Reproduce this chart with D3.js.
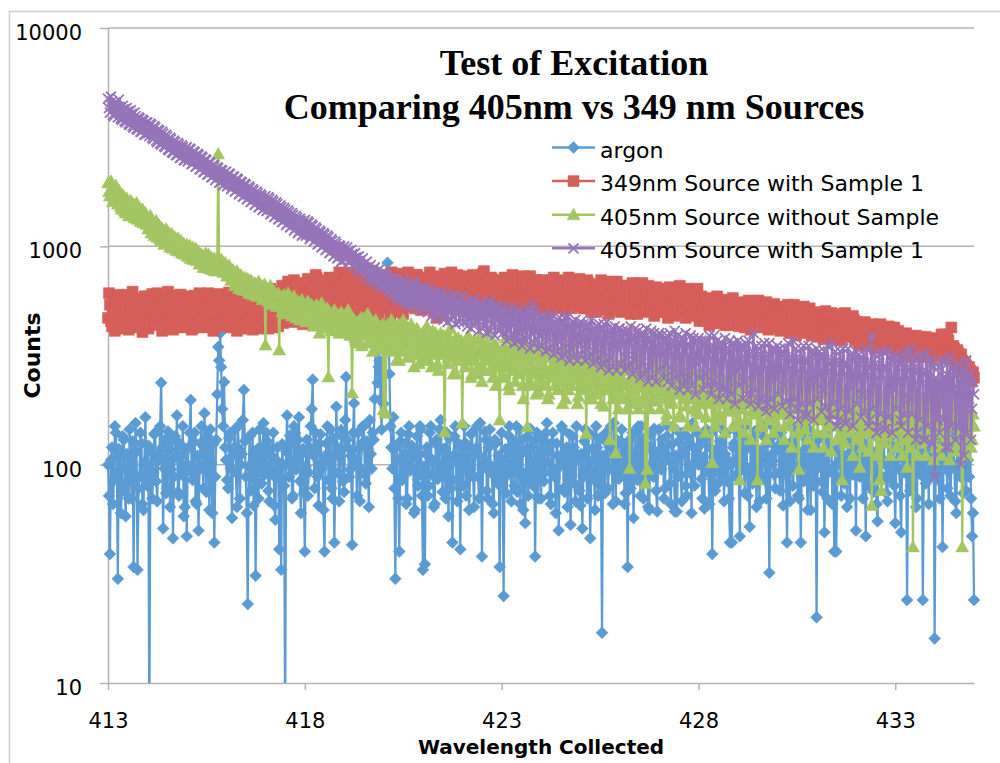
<!DOCTYPE html>
<html>
<head>
<meta charset="utf-8">
<script src="https://cdn.jsdelivr.net/npm/d3@7"></script>
<style>
  html, body { margin: 0; padding: 0; background: #ffffff; }
  svg { display: block; }
</style>
</head>
<body>
<svg id="chart" width="1000" height="763"></svg>
<script>
// Spectrometer sampling grid (nm): one reading every 0.025 nm from 413.000 to 435.000
const wavelengthStart = 413.0;
const wavelengthStep = 0.025;

// Counts, one row per nanometre (40 readings), plus the final reading at 435.000
const argon = [
  100, 72, 39, 105, 120, 66, 85, 150, 140, 92, 30, 118, 110, 60, 75, 135, 130, 82, 58, 112, 95, 70, 145, 98, 70, 128, 34, 90, 155, 115, 33, 78, 88, 140, 125, 66, 62, 102, 165, 88,
  80, 122, 6, 95, 115, 70, 92, 138, 140, 84, 68, 112, 105, 150, 237, 120, 51, 96, 130, 74, 78, 142, 118, 64, 95, 130, 46, 88, 135, 108, 168, 75, 72, 125, 110, 90, 150, 58, 64, 118,
  47, 100, 120, 140, 198, 92, 85, 128, 140, 68, 66, 110, 50, 95, 125, 150, 98, 78, 172, 116, 75, 135, 115, 62, 145, 102, 60, 124, 44, 88, 130, 210, 346, 300, 401, 280, 180, 150, 239, 120,
  105, 85, 78, 132, 140, 96, 57, 110, 120, 145, 92, 64, 150, 118, 70, 100, 112, 160, 220, 128, 88, 60, 23, 98, 135, 76, 100, 140, 65, 110, 31, 94, 118, 70, 145, 120, 82, 104, 155, 90,
  95, 140, 128, 76, 68, 118, 110, 90, 140, 65, 56, 105, 120, 88, 41, 96, 33, 124, 100, 80, 6, 115, 168, 102, 88, 136, 125, 70, 72, 150, 140, 95, 105, 130, 165, 84, 60, 112, 118, 74,
  40, 98, 130, 72, 92, 120, 150, 180, 245, 110, 78, 140, 115, 88, 65, 125, 138, 96, 100, 62, 40, 110, 125, 150, 85, 106, 145, 78, 70, 132, 44, 92, 184, 120, 110, 68, 90, 144, 135, 84,
  75, 160, 252, 130, 120, 88, 95, 110, 43, 140, 191, 100, 105, 72, 140, 118, 68, 96, 125, 150, 150, 90, 82, 128, 118, 64, 160, 112, 96, 140, 130, 200, 380, 330, 237, 280, 300, 200, 145, 260,
  190, 330, 420, 620, 840, 420, 260, 150, 120, 96, 165, 78, 30, 120, 105, 70, 40, 128, 140, 85, 88, 112, 125, 66, 70, 138, 150, 94, 98, 122, 115, 60, 62, 108, 135, 80, 90, 150, 145, 72,
  33, 98, 35, 112, 120, 72, 80, 140, 150, 90, 105, 64, 66, 125, 130, 86, 92, 145, 160, 100, 75, 118, 118, 70, 140, 96, 58, 132, 100, 78, 44, 110, 135, 150, 85, 68, 125, 104, 41, 122,
  110, 80, 150, 126, 72, 100, 120, 62, 95, 138, 140, 88, 64, 118, 115, 150, 88, 70, 155, 108, 38, 96, 105, 142, 130, 76, 70, 120, 145, 92, 98, 66, 60, 130, 125, 84, 82, 110, 34, 100,
  140, 92, 25, 104, 118, 74, 90, 136, 150, 98, 68, 122, 128, 80, 100, 150, 75, 112, 145, 66, 112, 130, 62, 90, 54, 118, 135, 72, 95, 146, 120, 86, 80, 128, 38, 96, 140, 70, 105, 132,
  70, 118, 130, 84, 92, 140, 155, 102, 115, 72, 66, 126, 140, 94, 88, 60, 125, 110, 50, 98, 108, 150, 145, 78, 75, 116, 120, 64, 98, 138, 53, 90, 135, 120, 82, 68, 150, 106, 110, 76,
  65, 112, 51, 88, 128, 145, 95, 70, 140, 104, 46, 92, 118, 136, 85, 62, 150, 120, 72, 98, 132, 80, 17, 110, 105, 74, 140, 126, 78, 95, 120, 150, 96, 66, 155, 108, 68, 130, 125, 86,
  90, 128, 145, 96, 110, 66, 74, 120, 34, 102, 130, 78, 98, 140, 57, 92, 140, 112, 85, 150, 118, 72, 150, 104, 70, 132, 125, 88, 100, 64, 62, 118, 138, 95, 88, 146, 115, 76, 61, 108,
  145, 100, 95, 130, 120, 70, 78, 112, 135, 150, 105, 82, 66, 124, 150, 96, 61, 110, 61, 88, 128, 140, 90, 68, 140, 116, 112, 80, 72, 134, 125, 92, 98, 60, 155, 120, 80, 104, 118, 140,
  100, 122, 135, 86, 70, 108, 63, 130, 145, 98, 92, 66, 120, 140, 39, 96, 110, 76, 150, 118, 82, 104, 128, 90, 95, 144, 68, 112, 140, 84, 105, 70, 44, 100, 44, 120, 125, 150, 88, 106,
  140, 92, 47, 108, 115, 136, 98, 74, 150, 118, 72, 96, 52, 124, 130, 82, 90, 142, 120, 64, 145, 104, 68, 116, 110, 88, 135, 150, 85, 70, 125, 98, 32, 110, 100, 134, 148, 90, 78, 120,
  118, 140, 92, 76, 140, 104, 65, 122, 125, 90, 44, 110, 105, 68, 150, 128, 80, 96, 130, 146, 98, 72, 70, 114, 44, 100, 138, 84, 112, 150, 88, 62, 145, 108, 62, 126, 120, 80, 95, 136,
  20, 96, 130, 112, 105, 84, 75, 138, 49, 104, 140, 70, 92, 126, 118, 150, 66, 98, 40, 116, 40, 88, 150, 120, 100, 72, 128, 144, 82, 106, 110, 64, 145, 96, 70, 132, 125, 90, 96, 118,
  50, 112, 135, 94, 88, 146, 115, 70, 150, 102, 47, 124, 120, 80, 98, 136, 140, 110, 75, 96, 108, 66, 55, 118, 130, 90, 85, 142, 145, 104, 100, 74, 68, 128, 125, 86, 92, 150, 138, 80,
  54, 104, 118, 140, 95, 72, 49, 116, 140, 92, 110, 130, 24, 98, 128, 76, 80, 144, 150, 108, 102, 64, 70, 122, 135, 96, 90, 148, 24, 100, 120, 82, 145, 110, 66, 126, 112, 88, 98, 134,
  16, 90, 130, 110, 85, 70, 140, 124, 42, 100, 115, 140, 95, 78, 150, 112, 72, 96, 125, 144, 100, 68, 60, 116, 138, 92, 88, 130, 118, 74, 145, 104, 76, 120, 105, 88, 130, 70, 47, 60,
  24
];

const source349WithSample = [
  470, 610, 540, 455, 430, 520, 585, 410, 505, 570, 450, 600, 560, 440, 480, 530, 420, 580, 530, 465, 600, 415, 460, 545, 510, 620, 445, 495, 575, 430, 490, 560, 425, 515, 550, 405, 470, 590, 520, 450,
  590, 420, 440, 555, 500, 605, 560, 435, 455, 525, 610, 470, 480, 580, 520, 410, 430, 545, 570, 490, 495, 620, 465, 430, 545, 500, 415, 590, 580, 460, 500, 540, 450, 600, 600, 425, 475, 565, 530, 480,
  440, 590, 565, 470, 510, 415, 420, 550, 595, 495, 485, 440, 535, 610, 450, 520, 570, 425, 500, 580, 430, 545, 610, 460, 465, 590, 525, 410, 490, 560, 575, 450, 440, 605, 550, 480, 505, 430, 460, 575,
  580, 450, 470, 615, 515, 425, 435, 560, 600, 485, 490, 410, 455, 575, 560, 500, 420, 595, 540, 440, 505, 620, 590, 470, 445, 530, 520, 415, 480, 600, 565, 455, 430, 540, 545, 630, 500, 420, 610, 520,
  460, 600, 530, 420, 490, 640, 580, 470, 425, 560, 555, 600, 470, 430, 620, 540, 505, 660, 445, 580, 590, 470, 520, 690, 480, 560, 650, 450, 540, 700, 460, 620, 610, 500, 500, 680, 570, 460, 440, 650,
  600, 480, 520, 710, 680, 560, 470, 650, 640, 520, 560, 740, 720, 600, 500, 670, 610, 470, 450, 700, 690, 580, 580, 480, 530, 720, 650, 560, 480, 690, 700, 600, 560, 500, 620, 760, 510, 640, 670, 540,
  590, 700, 720, 500, 540, 760, 660, 580, 610, 490, 480, 690, 700, 620, 570, 740, 640, 530, 520, 680, 740, 600, 600, 500, 560, 720, 680, 610, 500, 770, 650, 560, 620, 700, 560, 480, 710, 640, 590, 730,
  640, 520, 550, 720, 690, 600, 600, 480, 760, 660, 530, 700, 660, 560, 610, 750, 580, 500, 720, 630, 490, 680, 650, 560, 620, 760, 700, 530, 560, 690, 680, 600, 520, 740, 740, 580, 600, 700, 640, 510,
  570, 720, 690, 540, 620, 680, 520, 760, 730, 600, 600, 500, 650, 700, 470, 620, 680, 560, 560, 730, 620, 490, 750, 640, 540, 700, 660, 580, 600, 760, 700, 520, 580, 670, 630, 740, 510, 600, 690, 550,
  610, 730, 560, 660, 720, 520, 590, 690, 650, 560, 530, 740, 700, 610, 620, 500, 570, 700, 680, 590, 600, 750, 770, 620, 540, 680, 640, 510, 590, 720, 710, 600, 560, 680, 660, 530, 500, 700, 630, 580,
  690, 540, 580, 720, 620, 500, 540, 680, 700, 610, 600, 740, 650, 560, 520, 690, 680, 600, 590, 500, 620, 710, 730, 580, 560, 650, 640, 520, 600, 730, 500, 640, 670, 560, 580, 700, 700, 610, 550, 680,
  630, 520, 580, 700, 680, 610, 540, 660, 610, 500, 700, 590, 560, 720, 650, 540, 590, 680, 520, 630, 670, 560, 600, 700, 640, 510, 550, 670, 720, 600, 580, 520, 620, 690, 530, 620, 660, 560, 600, 710,
  560, 680, 640, 520, 590, 660, 520, 700, 680, 560, 600, 500, 550, 670, 630, 590, 500, 640, 660, 540, 580, 700, 620, 510, 540, 650, 690, 580, 570, 490, 610, 680, 520, 620, 650, 550, 590, 690, 560, 510,
  620, 500, 550, 660, 600, 530, 510, 640, 660, 570, 580, 490, 630, 680, 540, 600, 600, 510, 490, 650, 640, 560, 570, 680, 610, 500, 530, 620, 590, 660, 650, 540, 520, 610, 600, 480, 560, 650, 620, 530,
  540, 640, 600, 500, 560, 620, 500, 580, 630, 470, 570, 650, 520, 600, 610, 490, 480, 630, 580, 540, 550, 660, 620, 500, 510, 610, 590, 470, 560, 640, 530, 580, 600, 480, 490, 620, 570, 530, 550, 640,
  560, 455, 495, 590, 530, 475, 455, 570, 570, 505, 515, 435, 485, 580, 550, 465, 445, 540, 530, 590, 505, 445, 560, 525, 475, 570, 525, 435, 495, 560, 540, 475, 435, 530, 515, 580, 550, 445, 485, 540,
  515, 430, 460, 555, 535, 470, 490, 425, 430, 525, 525, 565, 470, 415, 510, 545, 440, 490, 545, 430, 480, 565, 500, 440, 425, 515, 525, 460, 460, 555, 490, 415, 510, 535, 440, 500, 480, 545, 515, 425,
  445, 520, 495, 410, 465, 530, 420, 485, 510, 435, 455, 540, 485, 400, 410, 500, 475, 540, 435, 390, 500, 465, 430, 520, 465, 410, 485, 530, 400, 465, 475, 420, 445, 520, 495, 390, 430, 500, 465, 435,
  430, 495, 470, 385, 405, 490, 450, 375, 425, 505, 480, 405, 395, 460, 440, 495, 460, 375, 385, 480, 450, 415, 425, 490, 470, 370, 405, 460, 430, 495, 455, 385, 385, 470, 440, 405, 415, 480, 460, 370,
  395, 450, 425, 350, 370, 430, 415, 380, 385, 450, 430, 350, 360, 425, 405, 370, 425, 440, 380, 340, 410, 425, 350, 395, 395, 440, 415, 340, 370, 425, 405, 360, 385, 430, 360, 405, 415, 340, 380, 425,
  385, 330, 355, 410, 395, 340, 340, 385, 375, 320, 350, 400, 390, 340, 330, 375, 365, 310, 385, 355, 345, 390, 375, 320, 355, 385, 320, 355, 370, 310, 345, 385, 380, 340, 330, 375, 355, 310, 340, 365,
  370, 315, 325, 380, 360, 325, 340, 395, 380, 340, 395, 350, 350, 385, 370, 315, 335, 425, 320, 350, 340, 300, 310, 335, 325, 275, 290, 320, 300, 265, 275, 295, 285, 250, 260, 280, 270, 240, 250, 265,
  250
];

const source405NoSample = [
  1950, 1780, 1700, 1990, 1820, 1600, 1620, 1850, 1900, 1640, 1560, 1800, 1750, 1520, 1480, 1720, 1680, 1450, 1420, 1660, 1600, 1380, 1500, 1620, 1380, 1520, 1560, 1350, 1440, 1580, 1330, 1460, 1500, 1300, 1380, 1480, 1280, 1420, 1420, 1260,
  1340, 1200, 1230, 1380, 1150, 1280, 1300, 1120, 1200, 1310, 1100, 1240, 1250, 1080, 1060, 1210, 1180, 1020, 1120, 1200, 1030, 1130, 1150, 990, 1070, 1140, 980, 1080, 1100, 960, 1020, 1090, 950, 1040, 1060, 930, 990, 1030, 920, 1000,
  1020, 900, 940, 1010, 880, 960, 990, 870, 920, 980, 860, 900, 950, 830, 830, 920, 900, 800, 870, 930, 800, 880, 920, 790, 850, 890, 780, 860, 880, 770, 820, 850, 2650, 800, 790, 870, 860, 760, 760, 840,
  810, 730, 740, 820, 790, 700, 700, 780, 760, 660, 680, 770, 730, 640, 660, 740, 720, 630, 690, 720, 630, 700, 710, 610, 650, 700, 690, 600, 610, 680, 670, 590, 640, 690, 590, 650, 660, 570, 620, 670,
  353, 640, 620, 560, 580, 660, 640, 540, 560, 620, 600, 530, 540, 610, 335, 570, 590, 500, 520, 600, 570, 490, 550, 610, 500, 560, 580, 480, 530, 590, 560, 470, 490, 560, 540, 460, 510, 570, 470, 540,
  530, 450, 490, 560, 550, 460, 470, 540, 510, 430, 450, 530, 540, 460, 480, 400, 500, 550, 440, 500, 520, 420, 470, 520, 252, 480, 490, 410, 450, 500, 510, 440, 430, 490, 480, 400, 460, 500, 420, 470,
  480, 400, 420, 500, 510, 430, 390, 470, 213, 440, 460, 380, 370, 450, 440, 360, 400, 470, 350, 420, 470, 390, 410, 460, 490, 370, 360, 440, 430, 330, 390, 450, 460, 370, 340, 430, 420, 350, 380, 440,
  178, 400, 172, 380, 440, 340, 370, 420, 460, 360, 330, 410, 410, 300, 390, 440, 300, 380, 430, 330, 460, 370, 350, 420, 400, 310, 320, 400, 440, 350, 370, 280, 340, 410, 420, 320, 290, 380, 390, 300,
  400, 310, 330, 390, 430, 350, 300, 380, 380, 280, 410, 340, 320, 400, 360, 290, 270, 360, 400, 320, 350, 390, 141, 330, 390, 290, 310, 370, 420, 330, 340, 260, 360, 380, 260, 340, 380, 300, 330, 370,
  155, 340, 360, 280, 300, 370, 390, 310, 320, 250, 260, 350, 370, 300, 330, 260, 280, 380, 380, 320, 240, 340, 350, 270, 310, 360, 400, 300, 270, 330, 340, 250, 360, 310, 230, 350, 330, 280, 160, 320,
  330, 260, 250, 350, 380, 300, 280, 230, 220, 330, 350, 270, 300, 380, 240, 310, 410, 260, 270, 340, 320, 230, 200, 300, 360, 280, 149, 320, 290, 240, 230, 350, 340, 270, 260, 210, 310, 360, 215, 290,
  300, 230, 240, 330, 350, 260, 270, 200, 210, 310, 330, 250, 280, 350, 230, 290, 380, 220, 250, 320, 300, 240, 190, 290, 340, 200, 260, 350, 220, 270, 310, 230, 245, 330, 360, 260, 270, 190, 205, 300,
  290, 220, 230, 310, 330, 250, 139, 280, 260, 200, 300, 240, 200, 310, 270, 210, 340, 260, 220, 300, 280, 190, 245, 320, 185, 260, 310, 220, 230, 290, 130, 240, 290, 200, 250, 300, 113, 230, 270, 180,
  260, 200, 210, 290, 300, 230, 230, 180, 180, 270, 96, 250, 280, 190, 240, 300, 200, 230, 310, 180, 225, 280, 260, 200, 190, 270, 82, 240, 95, 220, 270, 180, 210, 290, 245, 200, 300, 240, 195, 270,
  250, 180, 200, 270, 280, 210, 220, 160, 170, 250, 260, 200, 230, 280, 190, 150, 290, 220, 210, 260, 240, 170, 165, 240, 270, 200, 215, 280, 185, 150, 250, 230, 200, 270, 280, 180, 225, 150, 175, 250,
  240, 170, 190, 260, 260, 200, 205, 140, 165, 240, 250, 190, 215, 270, 102, 200, 270, 150, 195, 240, 230, 170, 160, 250, 255, 190, 200, 140, 175, 230, 240, 180, 190, 260, 265, 150, 210, 240, 150, 200,
  225, 160, 85, 230, 250, 180, 195, 140, 160, 240, 235, 190, 200, 130, 175, 250, 260, 170, 185, 230, 85, 200, 215, 150, 150, 240, 240, 180, 190, 130, 165, 230, 230, 160, 205, 250, 140, 190, 220, 150,
  215, 150, 170, 230, 240, 180, 190, 130, 150, 220, 225, 170, 195, 240, 160, 120, 250, 190, 180, 230, 210, 140, 95, 200, 230, 160, 175, 240, 145, 200, 220, 130, 190, 230, 240, 170, 165, 120, 200, 220,
  205, 140, 160, 220, 230, 170, 180, 120, 140, 210, 215, 160, 185, 230, 150, 115, 240, 180, 170, 220, 200, 130, 135, 200, 220, 160, 85, 210, 175, 125, 210, 170, 150, 230, 230, 140, 180, 110, 160, 210,
  200, 130, 150, 210, 97, 170, 175, 120, 215, 160, 140, 200, 190, 115, 160, 220, 65, 150, 225, 170, 180, 110, 145, 200, 85, 160, 76, 190, 200, 125, 170, 220, 135, 160, 210, 110, 160, 190, 185, 140,
  190, 120, 145, 200, 210, 150, 165, 110, 130, 190, 195, 140, 97, 180, 175, 120, 220, 160, 42, 140, 180, 200, 140, 110, 200, 160, 160, 200, 125, 170, 190, 110, 170, 210, 215, 140, 150, 190, 135, 105,
  185, 120, 140, 200, 205, 150, 160, 110, 125, 190, 190, 140, 165, 200, 130, 105, 210, 160, 150, 190, 175, 115, 120, 180, 195, 140, 155, 200, 42, 130, 180, 170, 140, 110, 200, 150, 160, 120, 130, 170,
  150
];

const source405WithSample = [
  4750, 4300, 4100, 4850, 4600, 4000, 3950, 4550, 4500, 4150, 3900, 4700, 4350, 3850, 3800, 4400, 4250, 3750, 3700, 4300, 4150, 3650, 3600, 4200, 4050, 3550, 3500, 4100, 3950, 3450, 3420, 3900, 3850, 3350, 3350, 3800, 3750, 3250, 3250, 3700,
  3700, 3300, 3200, 3650, 3600, 3150, 3100, 3550, 3500, 3050, 3000, 3420, 3380, 2960, 2920, 3350, 3280, 2880, 2850, 3250, 3180, 2780, 2760, 3150, 3100, 2700, 2680, 3050, 3000, 2620, 2620, 2980, 2920, 2540, 2550, 2900, 2850, 2480, 2480, 2800,
  2850, 2450, 2480, 2800, 2780, 2380, 2400, 2720, 2700, 2320, 2330, 2650, 2620, 2250, 2260, 2580, 2550, 2190, 2200, 2500, 2480, 2130, 2140, 2430, 2410, 2070, 2080, 2370, 2340, 2010, 2030, 2300, 2280, 1960, 1970, 2240, 2220, 1900, 1920, 2180,
  2200, 1880, 1900, 2150, 2140, 1830, 1850, 2090, 2080, 1780, 1800, 2040, 2020, 1730, 1750, 1980, 1960, 1690, 1700, 1930, 1910, 1640, 1650, 1880, 1850, 1600, 1610, 1830, 1800, 1550, 1560, 1780, 1750, 1510, 1520, 1730, 1700, 1470, 1480, 1680,
  1700, 1450, 1460, 1680, 1650, 1400, 1420, 1630, 1600, 1360, 1380, 1590, 1560, 1330, 1340, 1540, 1510, 1290, 1300, 1500, 1470, 1250, 1270, 1460, 1430, 1220, 1230, 1420, 1390, 1180, 1200, 1380, 1350, 1150, 1170, 1340, 1310, 1120, 1130, 1300,
  1320, 1120, 1130, 1300, 1280, 1080, 1100, 1260, 1240, 1050, 1060, 1220, 1200, 1020, 1030, 1180, 1160, 990, 1000, 1150, 1130, 960, 970, 1120, 1100, 930, 940, 1080, 1060, 900, 910, 1050, 1030, 880, 890, 1010, 1000, 850, 860, 990,
  1000, 870, 900, 990, 950, 840, 860, 960, 920, 810, 820, 930, 890, 780, 790, 900, 860, 760, 770, 880, 830, 730, 740, 850, 800, 700, 720, 820, 780, 690, 700, 800, 760, 670, 680, 780, 740, 650, 660, 760,
  760, 640, 670, 750, 730, 620, 640, 720, 700, 590, 620, 710, 680, 570, 600, 690, 660, 560, 590, 680, 700, 550, 610, 670, 650, 540, 580, 660, 640, 530, 560, 690, 680, 540, 590, 640, 620, 510, 570, 650,
  650, 520, 560, 640, 620, 500, 540, 630, 600, 480, 520, 610, 590, 470, 500, 600, 610, 490, 540, 620, 570, 460, 490, 590, 600, 450, 530, 580, 560, 460, 480, 600, 590, 440, 520, 570, 550, 450, 500, 590,
  580, 450, 490, 560, 550, 430, 460, 540, 530, 420, 480, 570, 570, 440, 450, 530, 520, 410, 470, 550, 540, 420, 430, 520, 510, 400, 480, 560, 560, 410, 440, 530, 500, 390, 460, 540, 530, 410, 420, 510,
  520, 400, 430, 510, 490, 370, 410, 500, 500, 380, 440, 530, 470, 360, 390, 480, 510, 370, 420, 500, 460, 350, 380, 490, 490, 370, 430, 520, 470, 340, 400, 480, 540, 360, 410, 500, 450, 340, 390, 470,
  480, 350, 400, 470, 450, 330, 370, 460, 470, 340, 410, 490, 430, 320, 360, 450, 460, 330, 390, 470, 440, 310, 350, 450, 470, 320, 400, 480, 420, 300, 340, 440, 450, 310, 380, 460, 430, 300, 360, 440,
  450, 320, 370, 440, 420, 300, 340, 430, 440, 310, 380, 460, 400, 290, 330, 420, 430, 300, 360, 440, 410, 280, 320, 420, 440, 290, 370, 450, 390, 270, 310, 410, 420, 280, 350, 430, 400, 270, 340, 420,
  420, 290, 350, 410, 400, 270, 310, 400, 410, 280, 360, 430, 380, 260, 300, 390, 420, 270, 340, 410, 390, 250, 290, 380, 400, 260, 350, 420, 370, 240, 280, 380, 410, 250, 330, 400, 380, 240, 320, 390,
  400, 270, 320, 390, 370, 250, 290, 380, 390, 240, 340, 400, 350, 230, 270, 370, 410, 250, 310, 390, 360, 220, 260, 360, 380, 230, 330, 400, 350, 220, 250, 350, 390, 230, 300, 380, 360, 210, 290, 370,
  380, 250, 300, 370, 350, 220, 260, 360, 370, 230, 320, 390, 330, 210, 240, 350, 390, 230, 290, 370, 340, 200, 230, 350, 360, 220, 310, 380, 330, 200, 220, 340, 370, 210, 280, 360, 340, 190, 270, 350,
  370, 230, 280, 350, 340, 200, 240, 340, 360, 210, 300, 370, 320, 190, 210, 330, 400, 220, 270, 350, 330, 185, 200, 320, 350, 200, 290, 360, 310, 175, 190, 320, 360, 200, 260, 340, 330, 180, 250, 330,
  350, 210, 270, 340, 320, 185, 230, 320, 340, 195, 290, 360, 300, 170, 190, 310, 370, 200, 260, 340, 310, 160, 180, 300, 340, 190, 280, 350, 300, 165, 170, 300, 350, 190, 250, 330, 320, 160, 240, 310,
  340, 200, 260, 330, 310, 175, 220, 310, 330, 185, 280, 350, 290, 160, 170, 300, 360, 190, 250, 330, 300, 150, 160, 290, 330, 180, 270, 340, 290, 155, 155, 290, 340, 175, 240, 320, 310, 150, 230, 300,
  330, 190, 250, 320, 300, 165, 210, 300, 320, 175, 270, 340, 280, 150, 160, 290, 390, 180, 240, 320, 290, 140, 150, 280, 320, 170, 260, 330, 280, 145, 145, 280, 330, 165, 230, 310, 300, 140, 220, 290,
  320, 180, 240, 310, 290, 160, 150, 290, 310, 170, 260, 330, 270, 140, 200, 280, 340, 170, 230, 310, 280, 130, 140, 270, 310, 160, 250, 320, 270, 130, 130, 260, 320, 150, 220, 300, 290, 125, 210, 280,
  88, 250, 230, 160, 280, 140, 190, 300, 300, 160, 250, 120, 260, 290, 120, 230, 310, 150, 220, 280, 270, 130, 150, 260, 290, 150, 240, 100, 250, 270, 110, 210, 300, 140, 200, 260, 260, 130, 180, 240,
  210
];

const seriesNames = [
  "argon",
  "349nm Source with Sample 1",
  "405nm Source without Sample",
  "405nm Source with Sample 1"
];
const seriesValues = [argon, source349WithSample, source405NoSample, source405WithSample];
const seriesColors = ["#5b9bd3", "#d65f5a", "#a3c562", "#9574b8"];
const seriesMarkers = ["diamond", "square", "triangle", "cross"];

const xTicks = [413, 418, 423, 428, 433];
const yTicks = [10, 100, 1000, 10000];

const titleLines = ["Test of Excitation", "Comparing 405nm vs 349 nm Sources"];
const xTitle = "Wavelength Collected";
const yTitle = "Counts";

// ---- layout ----
const svg = d3.select("#chart");
const plot = { left: 108, right: 974, top: 28, bottom: 683 };
const font = "'DejaVu Sans', sans-serif";
const axisGray = "#b3b3b3";

const x = d3.scaleLinear().domain([413, 435]).range([plot.left, plot.right]);
const y = d3.scaleLog().domain([10, 10000]).range([plot.bottom, plot.top]);

// chart frame
svg.append("rect")
  .attr("x", 9.5).attr("y", 11.5)
  .attr("width", 1010).attr("height", 780)
  .attr("fill", "#ffffff")
  .attr("stroke", "#cfcfcf").attr("stroke-width", 1.5);

// horizontal gridlines
svg.append("g").selectAll("line")
  .data(yTicks.filter(t => t > 10))
  .join("line")
  .attr("x1", plot.left).attr("x2", plot.right)
  .attr("y1", d => y(d)).attr("y2", d => y(d))
  .attr("stroke", axisGray).attr("stroke-width", 1.5);

// axes
const xAxis = svg.append("g")
  .attr("transform", `translate(0,${plot.bottom})`)
  .call(d3.axisBottom(x).tickValues(xTicks).tickSize(7).tickSizeOuter(0).tickFormat(d3.format("d")));
xAxis.select(".domain").attr("stroke", axisGray).attr("stroke-width", 1.5);
xAxis.selectAll(".tick line").attr("stroke", axisGray).attr("stroke-width", 1.5);
xAxis.selectAll(".tick text")
  .attr("y", 45).attr("dy", 0)
  .attr("font-family", font).attr("font-size", 21).attr("fill", "#000");

const yAxis = svg.append("g")
  .attr("transform", `translate(${plot.left},0)`)
  .call(d3.axisLeft(y).tickValues(yTicks).tickSize(8).tickSizeOuter(0).tickFormat(d3.format("d")));
yAxis.select(".domain").attr("stroke", axisGray).attr("stroke-width", 1.5);
yAxis.selectAll(".tick line").attr("stroke", axisGray).attr("stroke-width", 1.5);
yAxis.selectAll(".tick text")
  .attr("x", -26).attr("dy", "0.55em")
  .attr("font-family", font).attr("font-size", 21).attr("fill", "#000");

// clip so lines falling below the axis stop at it
svg.append("clipPath").attr("id", "plotClip")
  .append("rect").attr("x", 90).attr("y", 15).attr("width", 900).attr("height", plot.bottom - 15);

function markerPath(shape) {
  switch (shape) {
    case "diamond": return "M0,-6L6,0L0,6L-6,0Z";
    case "square": return "M-5.5,-5.5H5.5V5.5H-5.5Z";
    case "triangle": return "M0,-6.5L6.5,5L-6.5,5Z";
    case "cross": return "M-5,-5L5,5M-5,5L5,-5";
  }
}

const series = seriesValues.map((vals, k) => ({
  name: seriesNames[k],
  color: seriesColors[k],
  marker: seriesMarkers[k],
  points: vals.map((v, i) => ({ w: wavelengthStart + i * wavelengthStep, v }))
}));

const dataLayer = svg.append("g").attr("clip-path", "url(#plotClip)");
const line = d3.line().x(d => x(d.w)).y(d => y(d.v));

series.forEach(s => {
  const g = dataLayer.append("g");
  g.append("path")
    .datum(s.points)
    .attr("d", line)
    .attr("fill", "none")
    .attr("stroke", s.color)
    .attr("stroke-width", 2.25)
    .attr("stroke-linejoin", "round");
  const isCross = s.marker === "cross";
  g.selectAll("path.mk")
    .data(s.points)
    .join("path")
    .attr("class", "mk")
    .attr("transform", d => `translate(${x(d.w)},${y(d.v)})`)
    .attr("d", markerPath(s.marker))
    .attr("fill", isCross ? "none" : s.color)
    .attr("stroke", s.color)
    .attr("stroke-width", isCross ? 1.8 : 0.5);
});

// title
svg.append("g").selectAll("text")
  .data(titleLines)
  .join("text")
  .attr("x", 574)
  .attr("y", (d, i) => 75 + i * 44)
  .attr("text-anchor", "middle")
  .attr("font-family", "'Liberation Serif', 'Times New Roman', serif")
  .attr("font-weight", "bold")
  .attr("font-size", 36)
  .attr("fill", "#000")
  .text(d => d);

// legend
const legend = svg.append("g");
series.forEach((s, k) => {
  const ry = 147.5 + k * 33.6;
  const g = legend.append("g").attr("transform", `translate(0,${ry})`);
  g.append("line")
    .attr("x1", 552).attr("x2", 595).attr("y1", 0).attr("y2", 0)
    .attr("stroke", s.color).attr("stroke-width", 2.5);
  g.append("path")
    .attr("transform", "translate(573.5,0)")
    .attr("d", markerPath(s.marker))
    .attr("fill", s.marker === "cross" ? "none" : s.color)
    .attr("stroke", s.color)
    .attr("stroke-width", s.marker === "cross" ? 1.8 : 0.5);
  g.append("text")
    .attr("x", 600).attr("y", 10)
    .attr("font-family", font).attr("font-size", 22).attr("fill", "#000")
    .text(s.name);
});

// axis titles
svg.append("text")
  .attr("x", (plot.left + plot.right) / 2).attr("y", 754)
  .attr("text-anchor", "middle")
  .attr("font-family", font).attr("font-weight", "bold").attr("font-size", 20)
  .attr("fill", "#000")
  .text(xTitle);

svg.append("text")
  .attr("transform", `translate(40,${(plot.top + plot.bottom) / 2}) rotate(-90)`)
  .attr("text-anchor", "middle")
  .attr("font-family", font).attr("font-weight", "bold").attr("font-size", 22)
  .attr("fill", "#000")
  .text(yTitle);
</script>
</body>
</html>
